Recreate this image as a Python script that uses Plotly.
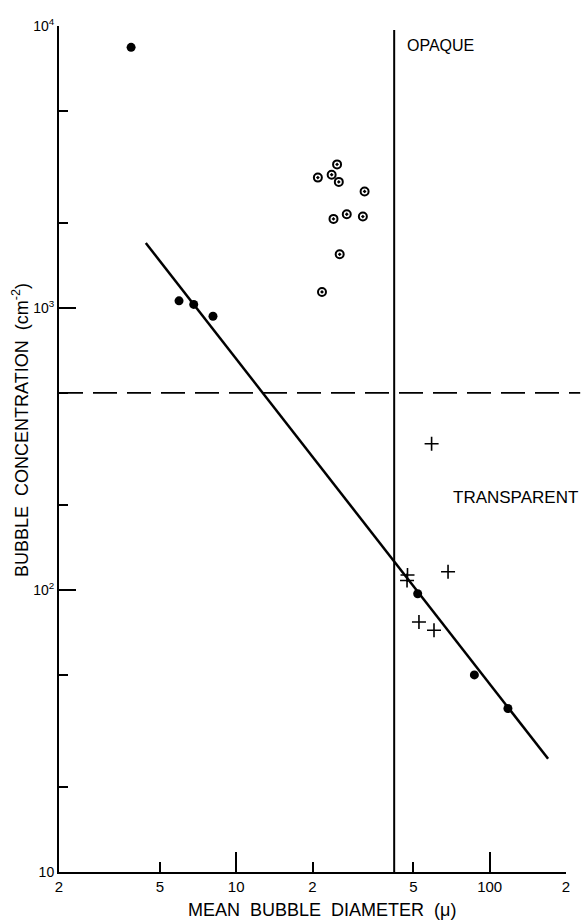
import plotly.graph_objects as go

# ---- data ----
filled_x = [3.85, 5.95, 6.8, 8.1, 52, 87, 118]
filled_y = [8400, 1060, 1030, 935, 97, 50, 38]

open_x = [25.0, 21.0, 23.8, 25.4, 32.1, 27.3, 24.2, 31.6, 25.6, 21.8]
open_y = [3230, 2900, 2970, 2800, 2590, 2150, 2070, 2110, 1550, 1140]

plus_x = [59, 47.4, 47.2, 68.5, 52.6, 60.3]
plus_y = [330, 113, 108, 116, 77, 72]

fit_x = [4.4, 170]
fit_y = [1700, 25.2]

boundary_x = 42          # vertical opaque/transparent boundary (diameter)
boundary_y = [10, 9680]
threshold_y = 500        # dashed horizontal concentration threshold

x_tick_vals = [2, 5, 10, 20, 50, 100, 200]
x_tick_text = ["2", "5", "10", "2", "5", "100", "2"]
x_major_vals = [10, 100]
y_tick_vals = [10, 100, 1000, 10000]
y_tick_text = ["10", "10<sup>2</sup>", "10<sup>3</sup>", "10<sup>4</sup>"]
y_minor_vals = [20, 50, 200, 500, 2000, 5000]

FONT = "Liberation Sans, Arial, sans-serif"

fig = go.Figure()

fig.add_trace(go.Scatter(x=fit_x, y=fit_y, mode="lines", xaxis="x2",
                         line=dict(color="black", width=2.5), showlegend=False,
                         hoverinfo="skip"))
fig.add_trace(go.Scatter(x=[boundary_x, boundary_x], y=boundary_y, mode="lines",
                         line=dict(color="black", width=2), showlegend=False,
                         hoverinfo="skip"))
fig.add_trace(go.Scatter(x=filled_x, y=filled_y, mode="markers",
                         marker=dict(symbol="circle", size=9, color="black"),
                         showlegend=False))
fig.add_trace(go.Scatter(x=open_x, y=open_y, mode="markers",
                         marker=dict(symbol="circle-open-dot", size=8, color="black",
                                     line=dict(width=2, color="black")),
                         showlegend=False))
fig.add_trace(go.Scatter(x=plus_x, y=plus_y, mode="markers",
                         marker=dict(symbol="cross-thin-open", size=10, color="black",
                                     line=dict(width=1.6, color="black")),
                         showlegend=False))

fig.add_shape(type="line", xref="paper", yref="y", x0=0, x1=1.028,
              y0=threshold_y, y1=threshold_y,
              line=dict(color="black", width=1.6, dash="24px,10px"))

fig.add_annotation(text="OPAQUE", xref="paper", yref="paper", x=0.753, y=0.9775,
                   xanchor="center", yanchor="middle", showarrow=False,
                   font=dict(family=FONT, size=16, color="black"))
fig.add_annotation(text="TRANSPARENT", xref="paper", yref="paper", x=1.028, y=0.443,
                   xanchor="right", yanchor="middle", showarrow=False,
                   font=dict(family=FONT, size=17, color="black"))
fig.add_annotation(text="MEAN  BUBBLE  DIAMETER  (\u03bc)", xref="paper", yref="paper",
                   x=0.519, y=-0.0449, xanchor="center", yanchor="middle",
                   showarrow=False, font=dict(family=FONT, size=18, color="black"))
fig.add_annotation(text="BUBBLE  CONCENTRATION  (cm<sup>-2</sup>)", xref="paper",
                   yref="paper", x=-0.075, y=0.5225, xanchor="center",
                   yanchor="middle", textangle=-90, showarrow=False,
                   font=dict(family=FONT, size=18, color="black"))

xrange = [0.30103, 2.30103]
fig.update_layout(
    width=585, height=920,
    margin=dict(l=59, r=19, t=26, b=48),
    paper_bgcolor="white", plot_bgcolor="white",
    font=dict(family=FONT, size=14, color="black"),
    xaxis=dict(type="log", range=xrange, tickmode="array", tickvals=x_tick_vals,
               ticktext=x_tick_text, ticks="inside", ticklen=10, tickwidth=1.5,
               tickcolor="black", showline=True, linecolor="black", linewidth=2,
               showgrid=False, zeroline=False, tickfont=dict(size=15)),
    xaxis2=dict(type="log", range=xrange, overlaying="x", anchor="y", side="bottom",
                tickmode="array", tickvals=x_major_vals, ticks="inside", ticklen=20,
                tickwidth=1.5, tickcolor="black", showticklabels=False,
                showline=False, showgrid=False, zeroline=False),
    yaxis=dict(type="log", range=[1, 4], tickmode="array", tickvals=y_tick_vals,
               ticktext=y_tick_text, ticks="inside", ticklen=17, tickwidth=1.5,
               tickcolor="black", showline=True, linecolor="black", linewidth=2,
               showgrid=False, zeroline=False, tickfont=dict(size=14),
               minor=dict(tickmode="array", tickvals=y_minor_vals, ticks="inside",
                          ticklen=9, tickwidth=1.5, tickcolor="black", showgrid=False)),
)

fig.write_html("out.html")
